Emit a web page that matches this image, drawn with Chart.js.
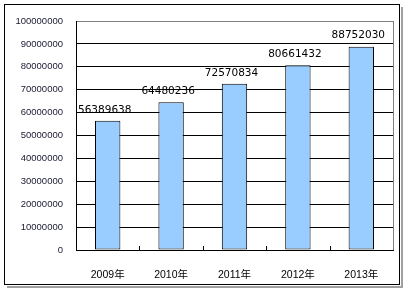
<!DOCTYPE html>
<html>
<head>
<meta charset="utf-8">
<script src="https://cdn.jsdelivr.net/npm/chart.js@4/dist/chart.umd.min.js"></script>
<style>
  html, body { margin: 0; padding: 0; background: #fff; }
  canvas { display: block; }
</style>
</head>
<body>
<canvas id="chart" width="404" height="290"></canvas>
<script>
const years = ['2009年', '2010年', '2011年', '2012年', '2013年'];
const values = [56389638, 64480236, 72570834, 80661432, 88752030];
const yMax = 100000000;
const yStep = 10000000;

// frame round the whole chart, gray right edge of the plot, small ticks on the x axis
const framePlugin = {
    id: 'frame',
    beforeDraw(chart) {
        const ctx = chart.ctx;
        ctx.save();
        ctx.strokeStyle = '#a0a0a0';
        ctx.lineWidth = 2;
        ctx.beginPath();
        ctx.moveTo(402, 7);
        ctx.lineTo(402, 287);
        ctx.lineTo(7, 287);
        ctx.stroke();
        ctx.strokeStyle = '#000';
        ctx.lineWidth = 1;
        ctx.strokeRect(4.5, 4.5, 395, 280);
        ctx.restore();
    },
    afterDraw(chart) {
        const ctx = chart.ctx;
        const area = chart.chartArea;
        const x = chart.scales.x;
        ctx.save();
        ctx.strokeStyle = '#808080';
        ctx.lineWidth = 1;
        ctx.beginPath();
        ctx.moveTo(Math.round(area.right) + 0.5, area.top);
        ctx.lineTo(Math.round(area.right) + 0.5, area.bottom);
        ctx.stroke();
        ctx.strokeStyle = '#000';
        ctx.beginPath();
        for (let i = 1; i < years.length; i++) {
            const px = Math.round((x.getPixelForTick(i - 1) + x.getPixelForTick(i)) / 2) + 0.5;
            ctx.moveTo(px, area.bottom);
            ctx.lineTo(px, area.bottom - 4);
        }
        ctx.stroke();
        ctx.restore();
    }
};

const valueLabels = {
    id: 'valueLabels',
    afterDatasetsDraw(chart) {
        const ctx = chart.ctx;
        ctx.save();
        ctx.font = '10.5px "DejaVu Sans", sans-serif';
        ctx.fillStyle = '#000';
        ctx.textAlign = 'center';
        ctx.textBaseline = 'middle';
        chart.getDatasetMeta(0).data.forEach((bar, i) => {
            ctx.fillText(String(values[i]), bar.x - 3, bar.y - 11);
        });
        ctx.restore();
    }
};

new Chart(document.getElementById('chart'), {
    type: 'bar',
    data: {
        labels: years,
        datasets: [{
            data: values,
            backgroundColor: '#99ccff',
            borderColor: '#000',
            borderWidth: 1,
            borderSkipped: false,
            barPercentage: 0.4,
            categoryPercentage: 1
        }]
    },
    options: {
        responsive: false,
        animation: false,
        layout: {
            padding: { left: 0, top: 21, right: 11, bottom: 0 }
        },
        plugins: {
            legend: { display: false },
            tooltip: { enabled: false }
        },
        scales: {
            x: {
                afterFit(scale) { scale.height = 40; },
                grid: { display: false },
                border: { display: true, color: '#000', width: 1 },
                ticks: {
                    color: '#000',
                    padding: 11,
                    font: { family: '"Liberation Sans", "Noto Sans CJK SC", sans-serif', size: 10.5 }
                }
            },
            y: {
                min: 0,
                max: yMax,
                afterFit(scale) { scale.width = 76; },
                grid: {
                    color: ctx => ctx.tick && ctx.tick.value === yMax ? '#808080' : '#000',
                    drawTicks: false,
                    tickLength: 0
                },
                border: { display: true, color: '#000', width: 1 },
                ticks: {
                    stepSize: yStep,
                    padding: 13,
                    color: '#1a1a33',
                    font: { family: '"Liberation Sans", sans-serif', size: 9.5 },
                    callback: v => String(v)
                }
            }
        }
    },
    plugins: [framePlugin, valueLabels]
});
</script>
</body>
</html>
